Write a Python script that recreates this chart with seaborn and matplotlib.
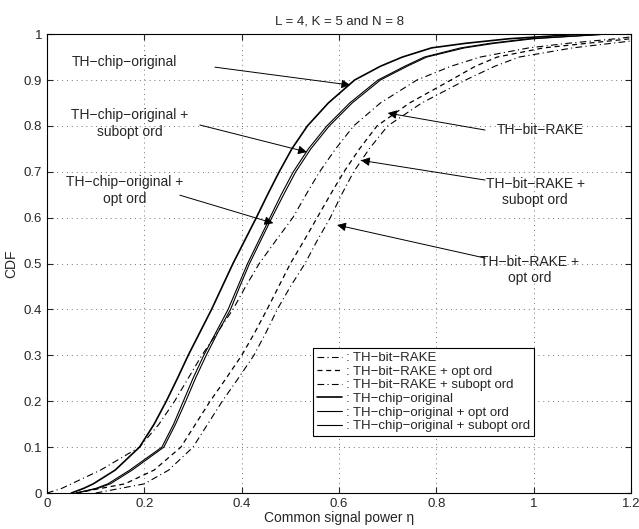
#!/usr/bin/env python3
import matplotlib
matplotlib.use('Agg')
import matplotlib.pyplot as plt
import seaborn as sns
from matplotlib.ticker import FuncFormatter, MultipleLocator

# CDF curves (x = common signal power, y = CDF)
chip_orig_x = [0.05, 0.075, 0.095, 0.14, 0.19, 0.22, 0.245, 0.268, 0.29, 0.314, 0.338, 0.36, 0.382, 0.406,
               0.43, 0.453, 0.477, 0.503, 0.535, 0.578, 0.632, 0.685, 0.73, 0.79, 0.86, 0.95, 1.1]
chip_orig_y = [0, 0.01, 0.02, 0.05, 0.1, 0.15, 0.2, 0.25, 0.3, 0.35, 0.4, 0.45, 0.5, 0.55,
               0.6, 0.65, 0.7, 0.75, 0.8, 0.85, 0.9, 0.93, 0.95, 0.97, 0.98, 0.99, 1.0]

chip_opt_x = [0.06, 0.10, 0.125, 0.17, 0.236, 0.26, 0.28, 0.30, 0.322, 0.347, 0.372, 0.392, 0.412, 0.435,
              0.458, 0.481, 0.506, 0.537, 0.575, 0.622, 0.68, 0.735, 0.775, 0.85, 0.91, 0.99, 1.15]
chip_opt_y = chip_orig_y

chip_sub_x = [0.06, 0.104, 0.13, 0.175, 0.24, 0.264, 0.285, 0.305, 0.327, 0.351, 0.377, 0.396, 0.416, 0.439,
              0.462, 0.486, 0.511, 0.542, 0.58, 0.627, 0.685, 0.74, 0.78, 0.858, 0.92, 1.0, 1.15]
chip_sub_y = chip_orig_y

bit_x = [0.0, 0.03, 0.05, 0.11, 0.19, 0.23, 0.262, 0.29, 0.318, 0.35, 0.382, 0.408, 0.436, 0.47,
         0.505, 0.532, 0.56, 0.593, 0.63, 0.685, 0.76, 0.83, 0.89, 0.99, 1.07, 1.17, 1.2]
bit_y = [0, 0.01, 0.02, 0.05, 0.1, 0.15, 0.2, 0.25, 0.3, 0.35, 0.4, 0.45, 0.5, 0.55,
         0.6, 0.65, 0.7, 0.75, 0.8, 0.85, 0.9, 0.93, 0.95, 0.97, 0.98, 0.99, 0.994]

bit_opt_x = [0.06, 0.16, 0.22, 0.275, 0.305, 0.335, 0.368, 0.40, 0.427, 0.452, 0.476, 0.5, 0.528,
             0.555, 0.582, 0.61, 0.642, 0.678, 0.745, 0.83, 0.88, 0.925, 1.02, 1.2]
bit_opt_y = [0, 0.02, 0.05, 0.1, 0.15, 0.2, 0.25, 0.3, 0.35, 0.4, 0.45, 0.5, 0.55,
             0.6, 0.65, 0.7, 0.75, 0.8, 0.85, 0.9, 0.93, 0.95, 0.97, 0.99]

bit_sub_x = [0.1, 0.2, 0.25, 0.30, 0.33, 0.36, 0.393, 0.425, 0.45, 0.473, 0.5, 0.53, 0.555,
             0.582, 0.605, 0.63, 0.662, 0.7, 0.77, 0.86, 0.92, 0.97, 1.08, 1.2]
bit_sub_y = [0, 0.02, 0.05, 0.1, 0.15, 0.2, 0.25, 0.3, 0.35, 0.4, 0.45, 0.5, 0.55,
             0.6, 0.65, 0.7, 0.75, 0.8, 0.85, 0.9, 0.93, 0.95, 0.97, 0.985]

sns.set_style('ticks')
plt.rcParams['font.family'] = ['Liberation Sans', 'DejaVu Sans']

fig = plt.figure(figsize=(6.39, 5.29), dpi=100)
ax = fig.add_axes([0.0736, 0.068, 0.914, 0.8675])

curves = [
    (bit_x, bit_y, ': TH\u2212bit\u2212RAKE', (0, (6, 3, 1, 3)), 0.8),
    (bit_opt_x, bit_opt_y, ': TH\u2212bit\u2212RAKE + opt ord', (0, (4, 3)), 0.9),
    (bit_sub_x, bit_sub_y, ': TH\u2212bit\u2212RAKE + subopt ord', (0, (6, 3, 1, 3)), 0.8),
    (chip_orig_x, chip_orig_y, ': TH\u2212chip\u2212original', '-', 1.2),
    (chip_opt_x, chip_opt_y, ': TH\u2212chip\u2212original + opt ord', '-', 0.8),
    (chip_sub_x, chip_sub_y, ': TH\u2212chip\u2212original + subopt ord', '-', 0.8),
]
for xs, ys, lab, ls, lw in curves:
    sns.lineplot(x=xs, y=ys, ax=ax, sort=False, estimator=None, color='k',
                 linestyle=ls, linewidth=lw, label=lab)

ax.set_xlim(0, 1.2)
ax.set_ylim(0, 1)
ax.xaxis.set_major_locator(MultipleLocator(0.2))
ax.yaxis.set_major_locator(MultipleLocator(0.1))
fmt = FuncFormatter(lambda v, pos: f'{v:g}')
ax.xaxis.set_major_formatter(fmt)
ax.yaxis.set_major_formatter(fmt)
ax.tick_params(direction='in', length=4, labelsize=9.5, top=True, right=True, width=0.8)
for s in ax.spines.values():
    s.set_color('k')
    s.set_linewidth(0.8)
ax.grid(True, linestyle=(0, (1, 4)), color='0.45', linewidth=0.7)

ax.set_title('L = 4, K = 5 and N = 8', fontsize=9.5, pad=7)
ax.set_xlabel('Common signal power \u03b7', fontsize=10, labelpad=1)
ax.set_ylabel('CDF', fontsize=10, labelpad=4)

arrow = dict(arrowstyle='-|>', color='k', lw=0.7, mutation_scale=13, shrinkA=0, shrinkB=0)
notes = [
    ('TH\u2212chip\u2212original', (0.16, 0.939), (0.345, 0.928), (0.623, 0.889)),
    ('TH\u2212chip\u2212original +\nsubopt ord', (0.17, 0.806), (0.314, 0.802), (0.534, 0.743)),
    ('TH\u2212chip\u2212original +\nopt ord', (0.16, 0.66), (0.273, 0.649), (0.465, 0.588)),
    ('TH\u2212bit\u2212RAKE', (1.013, 0.791), (0.9, 0.791), (0.70, 0.828)),
    ('TH\u2212bit\u2212RAKE +\nsubopt ord', (1.003, 0.656), (0.9, 0.682), (0.645, 0.725)),
    ('TH\u2212bit\u2212RAKE +\nopt ord', (0.992, 0.486), (0.9, 0.512), (0.596, 0.584)),
]
for text, tpos, tail, tip in notes:
    ax.text(tpos[0], tpos[1], text, ha='center', va='center', fontsize=10, linespacing=1.25)
    ax.annotate('', xy=tip, xytext=tail, arrowprops=arrow)

leg = ax.legend(loc='lower left', bbox_to_anchor=(0.455, 0.124), fontsize=9.5,
                frameon=True, fancybox=False, edgecolor='k', framealpha=1,
                handlelength=1.9, handletextpad=0.3, labelspacing=0.1,
                borderpad=0.3, borderaxespad=0)
leg.get_frame().set_linewidth(0.8)

fig.savefig('out.png', dpi=100)
